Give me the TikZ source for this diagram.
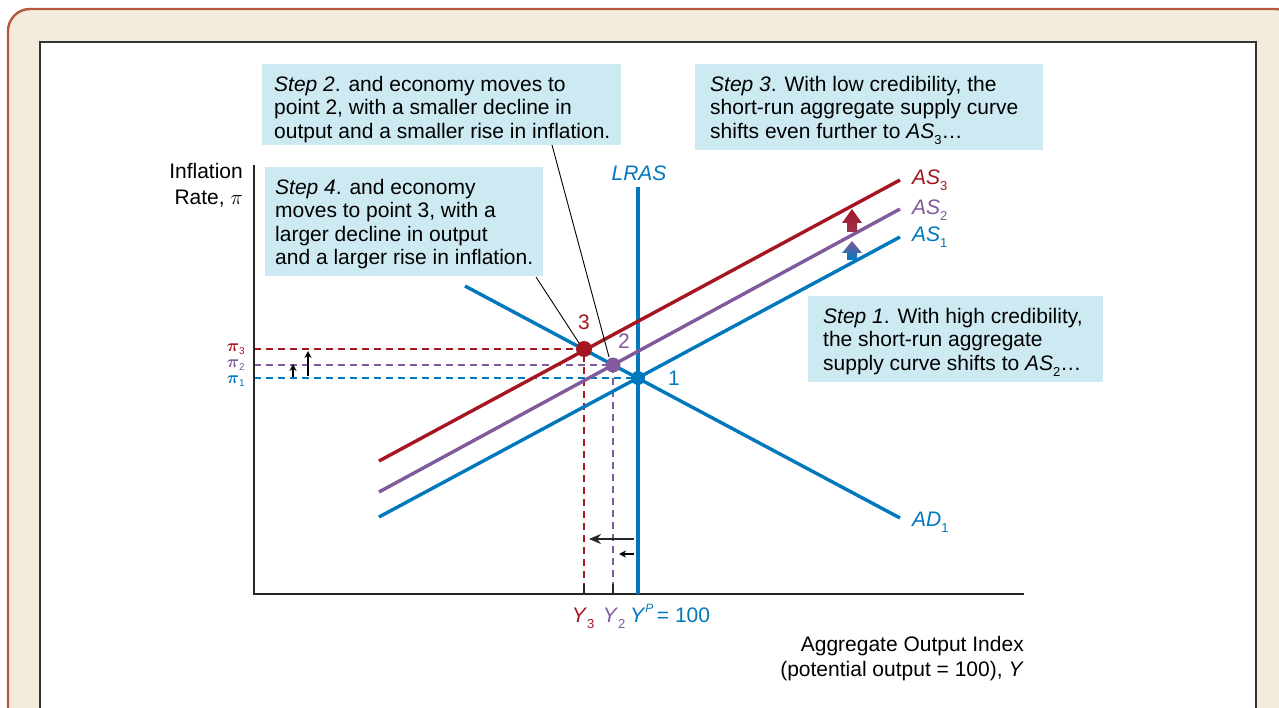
\documentclass[tikz,border=0pt]{standalone}
\usepackage{fontspec}
\setmainfont{Liberation Sans}
\usetikzlibrary{arrows.meta}
\definecolor{cred}{RGB}{166,22,32}
\definecolor{cpur}{RGB}{128,90,155}
\definecolor{cblue}{RGB}{0,120,190}
\definecolor{boxc}{RGB}{205,234,242}
\definecolor{beige}{RGB}{243,235,220}
\definecolor{brownc}{RGB}{180,90,60}
\newcommand\lowsub[1]{\raisebox{-0.55ex}{\fontsize{13}{13}\selectfont #1}}
\newcommand\pisub[1]{\raisebox{-0.3ex}{\fontsize{10}{10}\selectfont #1}}
\tikzset{
  curve/.style={line width=3.4pt},
  guide/.style={line width=1.2pt, dash pattern=on 7pt off 5pt},
  stepbox/.style={fill=boxc, draw=none, anchor=north west, inner sep=0pt},
  steptext/.style={anchor=north west, inner sep=0pt, align=left, font=\fontsize{21}{23.5}\selectfont},
  lbl/.style={inner sep=0pt, font=\fontsize{21}{23.5}\selectfont},
  pilbl/.style={inner sep=0pt, font=\fontsize{17}{17}\selectfont},
  dot/.style={circle, inner sep=0pt, minimum size=15pt},
  leader/.style={line width=0.9pt, black},
  smallarr/.style={-{Stealth[length=7pt,width=7pt]}, line width=1.5pt, black},
}
\begin{document}
\begin{tikzpicture}[x=1pt,y=-1pt]
\useasboundingbox (0,0) rectangle (1279,708);
% frame
\filldraw[fill=beige, draw=brownc, line width=2.4pt, rounded corners=22pt] (8,9) rectangle (1298,760);
\filldraw[fill=white, draw=black!80, line width=1.4pt] (40,42) rectangle (1256,740);

% key points
\coordinate (P1) at (638,378);
\coordinate (P2) at (613,365);
\coordinate (P3) at (584,349);
\coordinate (pi1) at (254,378);
\coordinate (pi2) at (254,365);
\coordinate (pi3) at (254,349);
\coordinate (y1) at (638,594);
\coordinate (y2) at (613,594);
\coordinate (y3) at (584,594);

% guides
\draw[guide, cblue] (pi1) -- (P1);
\draw[guide, cpur] (pi2) -- (P2) -- (y2);
\draw[guide, cred] (pi3) -- (P3) -- (y3);
\draw[line width=1.3pt, black!85] (y2) -- ++(0,-10);
\draw[line width=1.3pt, black!85] (y3) -- ++(0,-10);

% axes
\coordinate (ytop) at (254,165);
\coordinate (orig) at (254,594);
\coordinate (xend) at (1024,594);
\draw[line width=1.3pt, black!85] (ytop) -- (orig) -- (xend);

% curves
\coordinate (lrasT) at (638,187);
\draw[curve, cblue] (lrasT) -- (y1);
\coordinate (adA) at (465,286);
\coordinate (adB) at (900,518);
\draw[curve, cblue] (adA) -- (adB);
\coordinate (as1A) at (379,517);
\coordinate (as1B) at (900,237);
\draw[curve, cblue] (as1A) -- (as1B);
\coordinate (as2A) at (379,492);
\coordinate (as2B) at (900,209);
\draw[curve, cpur] (as2A) -- (as2B);
\coordinate (as3A) at (379,461);
\coordinate (as3B) at (900,180);
\draw[curve, cred] (as3A) -- (as3B);

% shift arrows on AS
\shade[top color=cred, bottom color=cred!60!cpur] (852,209) -- (862,223) -- (857,223) -- (857,232) -- (847,232) -- (847,223) -- (842,223) -- cycle;
\shade[top color=cpur, bottom color=cblue] (852,241) -- (862,253) -- (857,253) -- (857,260) -- (847,260) -- (847,253) -- (842,253) -- cycle;

% small arrows
\coordinate (a1s) at (293,377);
\coordinate (a1e) at (293,364);
\draw[smallarr] (a1s) -- (a1e);
\coordinate (a2s) at (308,376);
\coordinate (a2e) at (308,351);
\draw[smallarr] (a2s) -- (a2e);
\coordinate (b1s) at (634,539);
\coordinate (b1e) at (589,539);
\draw[-{Stealth[length=12pt,width=10pt]}, line width=2.6pt, black!85] (b1s) -- (b1e);
\coordinate (b2s) at (634,554);
\coordinate (b2e) at (619,554);
\draw[smallarr] (b2s) -- (b2e);

% points
\node[dot, fill=cblue, minimum size=14pt] (m1) at (P1) {};
\node[dot, fill=cpur] (m2) at (P2) {};
\node[dot, fill=cred, minimum size=16pt] (m3) at (P3) {};
\node[lbl, text=cblue] (n1) at (674,378) {1};
\node[lbl, text=cpur] (n2) at (624,341) {2};
\node[lbl, text=cred] (n3) at (584,322) {3};

% curve labels
\node[lbl, text=cblue] (lLRAS) at (639,173) {\textit{LRAS}};
\node[lbl, text=cred, anchor=west] (lAS3) at (912,180) {\textit{AS}\lowsub{3}};
\node[lbl, text=cpur, anchor=west] (lAS2) at (912,210) {\textit{AS}\lowsub{2}};
\node[lbl, text=cblue, anchor=west] (lAS1) at (912,237) {\textit{AS}\lowsub{1}};
\node[lbl, text=cblue, anchor=west] (lAD1) at (912,522) {\textit{AD}\lowsub{1}};

% pi labels
\node[pilbl, text=cred, anchor=east] (lpi3) at (245,349) {{\boldmath$\pi$}\pisub{3}};
\node[pilbl, text=cpur, anchor=east] (lpi2) at (245,365) {{\boldmath$\pi$}\pisub{2}};
\node[pilbl, text=cblue, anchor=east] (lpi1) at (245,381) {{\boldmath$\pi$}\pisub{1}};

% Y labels
\node[lbl, text=cred, anchor=base] (lY3) at (583,622) {\textit{Y}\lowsub{3}};
\node[lbl, text=cpur, anchor=base] (lY2) at (614,622) {\textit{Y}\lowsub{2}};
\node[lbl, text=cblue, anchor=base west] (lYP) at (630,622) {\textit{Y}\raisebox{0.9ex}{\fontsize{12}{12}\selectfont\textit{P}}\,= 100};

% axis titles
\node[lbl, anchor=north east, align=right, font=\fontsize{21}{26}\selectfont] (ylab) at (243,163) {Inflation\\Rate, $\pi$};
\node[lbl, anchor=north east, align=right, font=\fontsize{21}{25}\selectfont] (xlab) at (1024,636) {Aggregate Output Index\\(potential output = 100), \textit{Y}};

% step boxes
\node[stepbox, minimum width=359pt, minimum height=81pt] (s2box) at (262,64) {};
\node[steptext] (s2) at (274,76) {\textit{Step 2}. and economy moves to\\point 2, with a smaller decline in\\output and a smaller rise in inflation.};
\node[stepbox, minimum width=348pt, minimum height=86pt] (s3box) at (695,64) {};
\node[steptext] (s3) at (710,76) {\textit{Step 3}. With low credibility, the\\short-run aggregate supply curve\\shifts even further to \textit{AS}\lowsub{3}…};
\node[stepbox, minimum width=278pt, minimum height=109pt] (s4box) at (265,167) {};
\node[steptext] (s4) at (275,179) {\textit{Step 4}. and economy\\moves to point 3, with a\\larger decline in output\\and a larger rise in inflation.};
\node[stepbox, minimum width=295pt, minimum height=86pt] (s1box) at (808,296) {};
\node[steptext] (s1) at (823,308) {\textit{Step 1}. With high credibility,\\the short-run aggregate\\supply curve shifts to \textit{AS}\lowsub{2}…};

% leaders
\coordinate (l2) at (552,145);
\coordinate (l2e) at (609,357);
\draw[leader] (l2) -- (l2e);
\coordinate (l4) at (536,277);
\coordinate (l4e) at (579,343);
\draw[leader] (l4) -- (l4e);
\end{tikzpicture}
\end{document}
